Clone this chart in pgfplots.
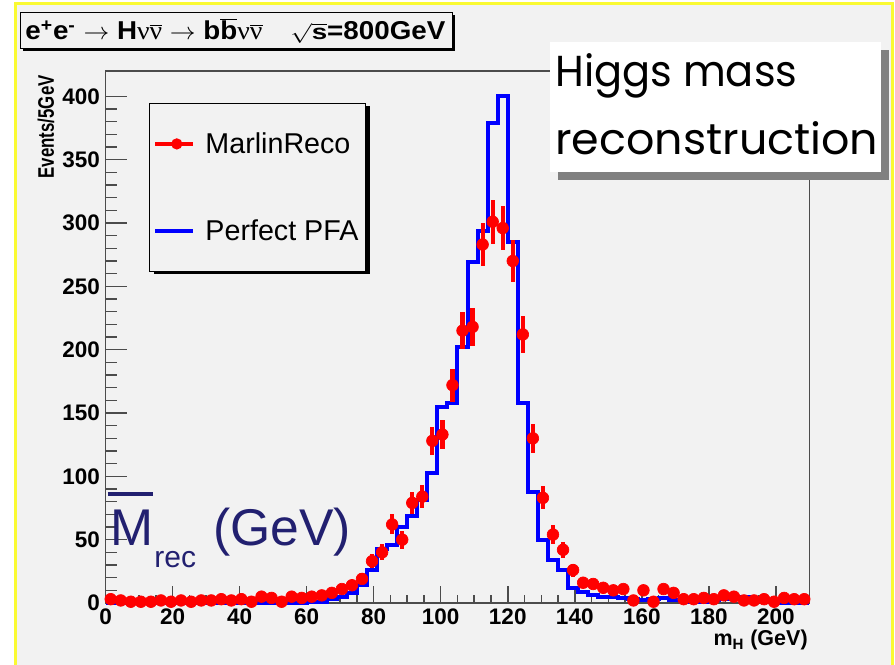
\documentclass[border=0pt]{standalone}
\usepackage{fontspec}
\setmainfont{Liberation Sans}
\newfontfamily\comicfont{Poppins}
\newfontfamily\symfont{Liberation Serif}
\usepackage{graphicx}
\usepackage{pgfplots}
\usepackage{pgfplotstable}
\pgfplotsset{compat=1.18}

\definecolor{bggray}{RGB}{242,242,242}
\definecolor{frameyellow}{RGB}{250,250,50}
\definecolor{navy}{RGB}{34,32,112}
\definecolor{shadowgray}{RGB}{128,128,128}
\definecolor{rootred}{RGB}{255,0,0}
\definecolor{rootblue}{RGB}{0,0,255}

% 1 px of the reference = 0.6pt, origin at its top left corner
\tikzset{px/.style={shift={(-63.42pt,361.8pt)}, x=0.6pt, y=-0.6pt}}
\newcommand{\nub}{$\overline{\hbox{\symfont\mdseries ν}}$}
\newcommand{\nuu}{{\symfont\mdseries ν}}

% MarlinReco: bin centre, entries, x error, y error
\pgfplotstableread{
x y ex ey
1.5 3 1.5 1.7
4.5 2 1.5 1.4
7.5 1 1.5 1
10.5 1 1.5 1
13.5 1 1.5 1
16.5 2 1.5 1.4
19.5 1 1.5 1
22.5 2 1.5 1.4
25.5 1 1.5 1
28.5 2 1.5 1.4
31.5 2 1.5 1.4
34.5 3 1.5 1.7
37.5 2 1.5 1.4
40.5 3 1.5 1.7
43.5 1 1.5 1
46.5 5 1.5 2.2
49.5 4 1.5 2
52.5 1 1.5 1
55.5 5 1.5 2.2
58.5 4 1.5 2
61.5 5 1.5 2.2
64.5 6 1.5 2.4
67.5 8 1.5 2.8
70.5 11 1.5 3.3
73.5 14 1.5 3.7
76.5 19 1.5 4.4
79.5 33 1.5 5.7
82.5 40 1.5 6.3
85.5 62 1.5 7.9
88.5 50 1.5 7.1
91.5 79 1.5 8.9
94.5 84 1.5 9.2
97.5 128 1.5 11.3
100.5 133 1.5 11.5
103.5 172 1.5 13.1
106.5 215 1.5 14.7
109.5 218 1.5 14.8
112.5 283 1.5 16.8
115.5 301 1.5 17.3
118.5 296 1.5 17.2
121.5 270 1.5 16.4
124.5 212 1.5 14.6
127.5 130 1.5 11.4
130.5 83 1.5 9.1
133.5 54 1.5 7.3
136.5 42 1.5 6.5
139.5 26 1.5 5.1
142.5 16 1.5 4
145.5 15 1.5 3.9
148.5 12 1.5 3.5
151.5 10 1.5 3.2
154.5 11 1.5 3.3
157.5 2 1.5 1.4
160.5 10 1.5 3.2
163.5 1 1.5 1
166.5 11 1.5 3.3
169.5 8 1.5 2.8
172.5 3 1.5 1.7
175.5 3 1.5 1.7
178.5 4 1.5 2
181.5 3 1.5 1.7
184.5 6 1.5 2.4
187.5 5 1.5 2.2
190.5 2 1.5 1.4
193.5 2 1.5 1.4
196.5 3 1.5 1.7
199.5 1 1.5 1
202.5 4 1.5 2
205.5 3 1.5 1.7
208.5 3 1.5 1.7
}\marlin

% Perfect PFA: left bin edge, entries
\pgfplotstableread{
x y
0 0
3 0
6 0
9 0
12 0
15 0
18 0
21 0
24 0
27 0
30 0
33 0
36 0
39 0
42 0
45 0
48 0
51 0
54 0
57 0
60 1
63 1
66 3
69 5
72 8
75 14
78 26
81 43
84 46
87 60
90 69
93 81
96 103
99 155
102 158
105 202
108 269
111 294
114 379
117 400
120 285
123 158
126 88
129 50
132 34
135 26
138 12
141 9
144 6
147 5
150 5
153 4
156 3
159 2
162 3
165 4
168 2
171 2
174 1
177 1
180 2
183 3
186 4
189 5
192 4
195 2
198 1
201 0
204 0
207 0
210 0
}\perfect

\begin{document}
\begin{tikzpicture}
\begin{scope}[px]
  \fill[white] (0,0) rectangle (895,665);
  \fill[frameyellow] (14,2) rectangle (894,665);
  \fill[bggray] (17,5) rectangle (891,665);
  % legend shadow
  \fill[black] (153.5,106.5) rectangle (369.5,274.5);
\end{scope}

\begin{axis}[
  scale only axis,
  width=422.16pt, height=319.2pt,
  xmin=0, xmax=210, ymin=0, ymax=420,
  xtick={0,20,...,200}, ytick={0,50,...,400},
  minor x tick num=3, minor y tick num=4,
  tick pos=left, tick align=inside,
  major tick length=13pt, minor tick length=6.6pt,
  xtick style={/pgfplots/major tick length=10pt, /pgfplots/minor tick length=4.6pt},
  axis line style={black!70, line width=0.9pt},
  tick style={black!70, line width=0.9pt},
  ticklabel style={font=\bfseries\fontsize{13.5}{14}\selectfont},
  /pgf/number format/assume math mode=true,
  clip=false,
  reverse legend,
  legend cell align=left,
  legend style={at={(0.062,0.939)}, anchor=north west,
    fill=bggray, draw=black, line width=0.6pt,
    font=\fontsize{17.2}{18}\selectfont,
    row sep=34.4pt, column sep=4pt, inner xsep=2pt, inner ysep=15pt},
]
\addplot[const plot, rootblue, line width=2.4pt, line join=miter,
  legend image code/.code={\draw[rootblue, line width=2.4pt] (0pt,0pt) -- (23pt,0pt);}]
  table[x=x, y=y]{\perfect};
\addlegendentry{Perfect PFA}

\addplot[only marks, mark=*, mark size=3.5pt, rootred,
  mark options={fill=rootred, draw=rootred},
  legend image code/.code={\draw[rootred, line width=2.4pt] (0pt,0pt) -- (23pt,0pt);
    \path[fill=rootred, draw=none] (13pt,0pt) circle (3.4pt);},
  error bars/.cd, x dir=both, x explicit, y dir=both, y explicit,
  error bar style={line width=2.5pt, rootred}, error mark=none]
  table[x=x, y=y, x error=ex, y error=ey]{\marlin};
\addlegendentry{MarlinReco}
\end{axis}

\begin{scope}[px]
  % title box
  \fill[black] (23.2,15.2) rectangle (455,51.5);
  \filldraw[fill=bggray, draw=black, line width=0.6pt] (20.7,12.7) rectangle (452.7,49);
  \node[anchor=base west, inner sep=0pt] at (25,40)
    {\resizebox{252pt}{\height}{\bfseries\fontsize{15.5}{16}\selectfont
     e\textsuperscript{+}e\textsuperscript{-} $\rightarrow$ H\nuu\nub{} $\rightarrow$
     b$\overline{\hbox{b}}$\nuu\nub\quad \scalebox{1}[0.82]{$\sqrt{\hbox{s}}$}=800GeV}};
  % axis titles
  \node[rotate=90, anchor=east, inner sep=0pt] at (46,75)
    {\resizebox{61.8pt}{\height}{\bfseries\fontsize{13.5}{14}\selectfont Events/5GeV}};
  \node[anchor=base east, inner sep=0pt, font=\bfseries\fontsize{12.9}{13}\selectfont]
    at (808,646) {m\textsubscript{H} (GeV)};
  % annotation
  \draw[navy, line width=2.4pt] (108,494.3) -- (152.7,494.3);
  \node[anchor=base west, inner sep=0pt, navy, font=\fontsize{31}{31}\selectfont]
    at (110,546) {M};
  \node[anchor=base west, inner sep=0pt, navy, font=\fontsize{18}{18}\selectfont]
    at (154,568) {rec};
  \node[anchor=base west, inner sep=0pt, navy, font=\fontsize{31}{31}\selectfont]
    at (213,546) {(GeV)};
  % label box
  \fill[shadowgray] (558,50) rectangle (889,180);
  \fill[white] (550,42) rectangle (881,172);
  \node[anchor=base west, inner sep=0pt] at (555,87)
    {\resizebox{145.2pt}{\height}{\comicfont\fontsize{26}{26}\selectfont Higgs mass}};
  \node[anchor=base west, inner sep=0pt] at (555,155)
    {\resizebox{193.8pt}{\height}{\comicfont\fontsize{26}{26}\selectfont reconstruction}};
\end{scope}
\pgfresetboundingbox
\path[px] (0,0) rectangle (895,665);
\end{tikzpicture}
\end{document}
